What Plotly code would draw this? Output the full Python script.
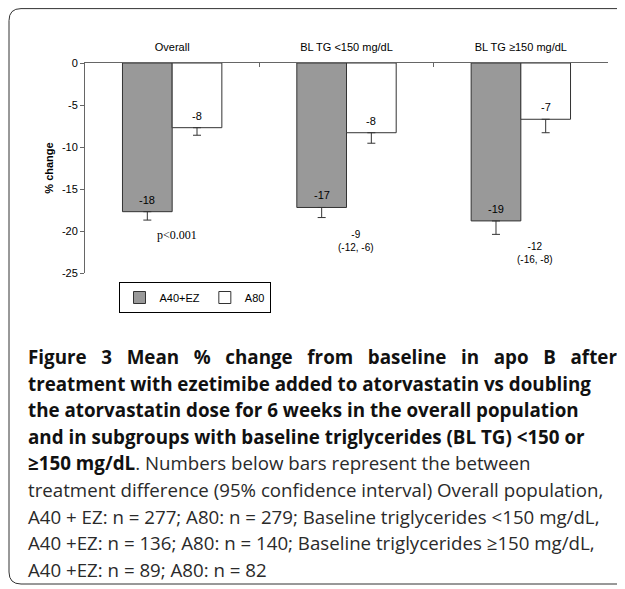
import plotly.graph_objects as go

# ---------------- data ----------------
categories = ["Overall", "BL TG <150 mg/dL", "BL TG ≥150 mg/dL"]
series_names = ["A40+EZ", "A80"]
a40ez_change = [-17.7, -17.2, -18.8]
a40ez_err = [1.0, 1.2, 1.6]
a80_change = [-7.7, -8.3, -6.7]
a80_err = [0.9, 1.25, 1.6]
diff_labels = ["p<0.001", "-9<br>(-12, -6)", "-12<br>(-16, -8)"]
y_ticks = [0, -5, -10, -15, -20, -25]
y_title = "% change"

caption_lines = [
    "<b>Figure 3 Mean % change from baseline in apo B after</b>",
    "<b>treatment with ezetimibe added to atorvastatin vs doubling</b>",
    "<b>the atorvastatin dose for 6 weeks in the overall population</b>",
    "<b>and in subgroups with baseline triglycerides (BL TG) <150 or</b>",
    "<b>≥150 mg/dL</b>. Numbers below bars represent the between",
    "treatment difference (95% confidence interval) Overall population,",
    "A40 + EZ: n = 277; A80: n = 279; Baseline triglycerides <150 mg/dL,",
    "A40 +EZ: n = 136; A80: n = 140; Baseline triglycerides ≥150 mg/dL,",
    "A40 +EZ: n = 89; A80: n = 82",
]

# ---------------- geometry ----------------
# the page body adds an 8px offset; all page coordinates below are converted
OFF = 8
W_FIG, H_FIG = 625 - OFF, 589 - OFF
L, R, T, B = 85 - OFF, 608 - OFF, 63 - OFF, 273 - OFF
PW, PH = R - L, B - T
BARGAP = 0.43


def px2x(page_px):
    return (page_px - OFF - L) / PW


def py2y(page_py):
    return (B - (page_py - OFF)) / PH


SANS = "Liberation Sans, Arial, sans-serif"
SERIF = "Liberation Serif, Times New Roman, serif"
CAP = "Open Sans, Noto Sans, sans-serif"
BOLD_SIZE, REG_SIZE = 18.8, 18.7

fig = go.Figure()
for name, vals, errs, fill in [
    (series_names[0], a40ez_change, a40ez_err, "#999999"),
    (series_names[1], a80_change, a80_err, "#ffffff"),
]:
    fig.add_trace(go.Bar(
        name=name, x=categories, y=vals,
        marker=dict(color=fill, line=dict(color="#333333", width=1)),
        error_y=dict(type="data", symmetric=False, array=[0] * len(errs),
                     arrayminus=errs, color="#333333", thickness=1, width=4),
    ))

annotations = []
# value labels inside the bar ends
half_bar_px = (PW / len(categories)) * (1 - BARGAP) / 4
for s, vals in enumerate([a40ez_change, a80_change]):
    for i, v in enumerate(vals):
        annotations.append(dict(
            x=categories[i], y=v, xref="x", yref="y", text=str(round(v)),
            showarrow=False, xanchor="center", yanchor="middle",
            xshift=(-1 if s == 0 else 1) * half_bar_px, yshift=12,
            font=dict(family=SANS, size=11, color="#000"),
        ))

# between-treatment differences below the bars
diff_fonts = [dict(family=SERIF, size=12, color="#000"),
              dict(family=SANS, size=10, color="#000"),
              dict(family=SANS, size=10, color="#000")]
diff_xshift = [5, 9, 14]
diff_yshift = [-6, -9, -5]
for i, lab in enumerate(diff_labels):
    annotations.append(dict(
        x=categories[i], y=a40ez_change[i] - a40ez_err[i], xref="x", yref="y",
        text=lab, showarrow=False, xanchor="center", yanchor="top",
        xshift=diff_xshift[i], yshift=diff_yshift[i], font=diff_fonts[i],
    ))

# caption
for i, line in enumerate(caption_lines):
    size = REG_SIZE
    color = "#2a2a2a"
    if i == 0:
        # justified first line: widen the word gaps
        line = line.replace(" ", " \u00a0\u00a0")
    if i < 4:
        size = BOLD_SIZE
        color = "#111111"
    line = line.replace("<b>≥150 mg/dL</b>",
                        f'<span style="font-size:{BOLD_SIZE}px;fill:#111111"><b>≥150 mg/dL</b></span>')
    annotations.append(dict(
        x=px2x(26), y=py2y(357 + 26.5 * i), xref="paper", yref="paper",
        text=line, showarrow=False, xanchor="left", yanchor="middle",
        font=dict(family=CAP, size=size, color=color),
    ))

# rounded frame around figure + caption
x0, x1 = px2x(9), px2x(660)
y0, y1 = py2y(8.6), py2y(584)
rx, ry = 12 / PW, 12 / PH
frame_path = (
    f"M{x0 + rx},{y0} L{x1},{y0} L{x1},{y1} L{x0 + rx},{y1} "
    f"Q{x0},{y1} {x0},{y1 + ry} L{x0},{y0 - ry} Q{x0},{y0} {x0 + rx},{y0} Z"
)

fig.update_layout(
    width=W_FIG, height=H_FIG,
    margin=dict(l=L, r=W_FIG - R, t=T, b=H_FIG - B, autoexpand=False),
    paper_bgcolor="#ffffff", plot_bgcolor="#ffffff",
    barmode="group", bargap=BARGAP, bargroupgap=0,
    showlegend=True,
    legend=dict(
        orientation="h", x=px2x(194.5), y=py2y(297.5), xanchor="center", yanchor="middle",
        bordercolor="#000000", borderwidth=1, bgcolor="#ffffff",
        font=dict(family=SANS, size=11, color="#000"),
        tracegroupgap=0, itemclick=False, itemdoubleclick=False,
    ),
    xaxis=dict(
        side="top", showline=True, linecolor="#666666", linewidth=1,
        ticks="inside", ticklen=4, tickcolor="#666666", tickson="boundaries",
        tickfont=dict(family=SANS, size=11, color="#000"),
        ticklabelstandoff=7, showgrid=False, zeroline=False, fixedrange=True,
        automargin=False,
    ),
    yaxis=dict(
        range=[-25, 0], tickvals=y_ticks, ticktext=[str(v) for v in y_ticks],
        showline=True, linecolor="#666666", linewidth=1,
        ticks="outside", ticklen=4, tickcolor="#666666",
        tickfont=dict(family=SANS, size=11, color="#000"),
        showgrid=False, zeroline=False, fixedrange=True, automargin=False,
        title=dict(text=f"<b>{y_title}</b>", standoff=6,
                   font=dict(family=SANS, size=11, color="#000")),
    ),
    annotations=annotations,
    shapes=[dict(type="path", path=frame_path, xref="paper", yref="paper",
                 line=dict(color="#333333", width=1), layer="below")],
)

fig.write_html("out.html")
